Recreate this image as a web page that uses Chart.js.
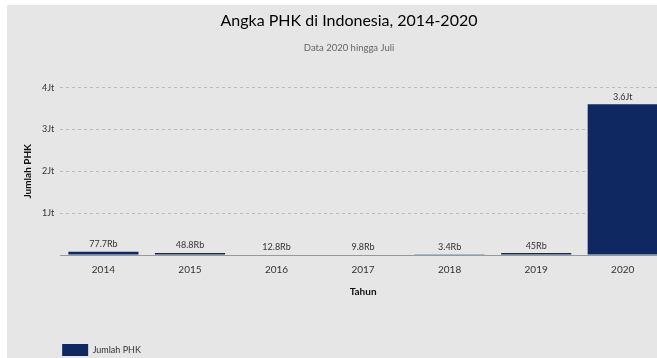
<!DOCTYPE html>
<html>
<head>
<meta charset="utf-8">
<script src="https://cdn.jsdelivr.net/npm/chart.js@4.4.0/dist/chart.umd.min.js"></script>
<style>
  html, body { margin: 0; padding: 0; background: #fff; overflow: hidden; width: 657px; height: 358px; }
  #wrap { position: absolute; left: 7px; top: 5px; width: 683px; height: 365px; background: #e6e6e6; }
</style>
</head>
<body>
<div id="wrap"><canvas id="chart"></canvas></div>
<script>
const years = ['2014', '2015', '2016', '2017', '2018', '2019', '2020'];
const jumlahPHK = [77700, 48800, 12800, 9800, 3400, 45000, 3600000];
const yMax = 4000000;
const yStep = 1000000;

function shortNum(v) {
  if (v >= 1e6) return String(+(v / 1e6).toFixed(1)) + 'Jt';
  return String(+(v / 1e3).toFixed(1)) + 'Rb';
}

// value labels above each bar
const barLabels = {
  id: 'barLabels',
  afterDatasetsDraw(chart) {
    const ctx = chart.ctx;
    const meta = chart.getDatasetMeta(0);
    ctx.save();
    ctx.font = '9px Lato';
    ctx.fillStyle = '#333';
    ctx.textAlign = 'center';
    ctx.textBaseline = 'bottom';
    meta.data.forEach((bar, i) => {
      ctx.fillText(shortNum(jumlahPHK[i]), bar.x, bar.y - 3);
    });
    ctx.restore();
  }
};

// legend sits under the plot's left edge
const legendShift = {
  id: 'legendShift',
  afterLayout(chart) {
    chart.legend.left = chart.chartArea.left - 8;
  }
};

Chart.defaults.font.family = 'Lato';
Chart.defaults.color = '#333';

new Chart(document.getElementById('chart'), {
  type: 'bar',
  data: {
    labels: years,
    datasets: [{
      label: 'Jumlah PHK',
      data: jumlahPHK,
      backgroundColor: '#0f2862',
      categoryPercentage: 0.9,
      barPercentage: 0.9
    }]
  },
  options: {
    responsive: true,
    maintainAspectRatio: false,
    animation: false,
    layout: { padding: { left: 25, right: 24, top: 0, bottom: 4 } },
    plugins: {
      title: {
        display: true,
        text: 'Angka PHK di Indonesia, 2014-2020',
        color: '#000',
        font: { size: 16, weight: 'normal' },
        padding: { top: 6, bottom: 6 }
      },
      subtitle: {
        display: true,
        text: 'Data 2020 hingga Juli',
        color: '#666',
        font: { size: 9.5 },
        padding: { top: 6, bottom: 34 }
      },
      legend: {
        position: 'bottom',
        align: 'start',
        labels: { boxWidth: 26, boxHeight: 12, font: { size: 9 }, color: '#333', padding: 10 }
      },
      tooltip: { enabled: false }
    },
    scales: {
      x: {
        z: 1,
        grid: { display: false, drawTicks: false },
        border: { display: true, dash: [3, 3], color: '#999' },
        ticks: { font: { size: 10 }, padding: 9 },
        title: { display: true, text: 'Tahun', font: { size: 10, weight: 'bold' }, color: '#111', padding: { top: 1, bottom: 36 } }
      },
      y: {
        min: 0,
        max: yMax,
        grid: { color: '#bbb', drawTicks: false },
        border: { display: false, dash: [3, 3] },
        ticks: {
          stepSize: yStep,
          font: { size: 9 },
          padding: 6,
          callback: v => v === 0 ? '' : shortNum(v)
        },
        title: { display: true, text: 'Jumlah PHK', font: { size: 10, weight: 'bold' }, color: '#111', padding: { top: -10, bottom: 2 } }
      }
    }
  },
  plugins: [barLabels, legendShift]
});
</script>
</body>
</html>
